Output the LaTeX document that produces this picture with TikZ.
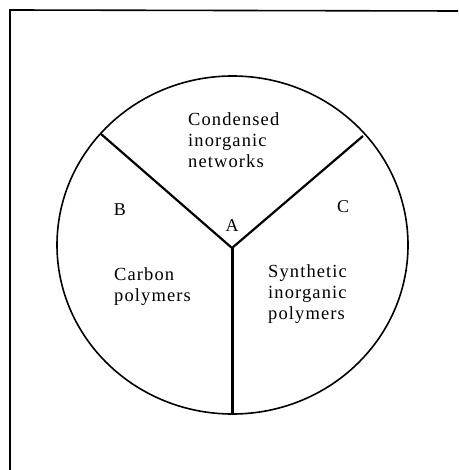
\documentclass[tikz,border=0pt]{standalone}
\usepackage{fontspec}
\setmainfont{Liberation Serif}[LetterSpace=6]
\begin{document}
\begin{tikzpicture}
    [x=1pt,y=-1pt,
    label/.style={font=\fontsize{18.5}{21}\selectfont,inner sep=0pt,align=left,anchor=north west},
    letter/.style={font=\fontsize{18}{20}\selectfont,inner sep=0pt},
    rim/.style={line width=1.6pt},
    wall/.style={line width=2.2pt}]
    \useasboundingbox (0,0) rectangle (458,470);
    %frame
    \draw[line width=1.6pt] (10,470)--(10,10)--(458,11);
    %circle
    \draw[rim] (232.5,245) ellipse [x radius=175.5,y radius=169];
    %walls
    \coordinate (A) at (232,248);
    \coordinate (b) at (101,134);
    \coordinate (c) at (363,136);
    \coordinate (d) at (232,414);
    \draw[wall] (b)--(A)--(c);
    \draw[wall,line width=3pt] (A)--(d);
    %letters
    \node[letter] (la) at (232,226) {A};
    \node[letter] (lb) at (120,210) {B};
    \node[letter] (lc) at (343,207) {C};
    %sectors
    \node[label] (net) at (188,112.5) {Condensed\\inorganic\\networks};
    \node[label] (carb) at (114,267) {Carbon\\polymers};
    \node[label] (syn) at (268,264) {Synthetic\\inorganic\\polymers};
\end{tikzpicture}
\end{document}
